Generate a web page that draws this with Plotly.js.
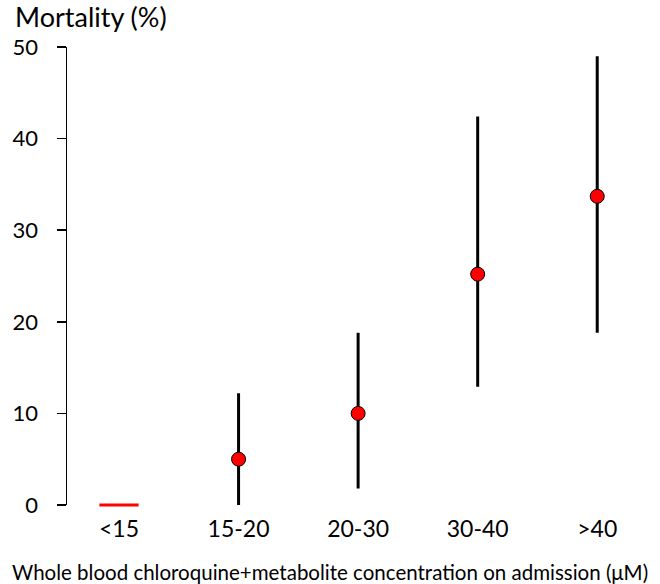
<!DOCTYPE html>
<html>
<head>
<meta charset="utf-8">
<script src="https://cdn.plot.ly/plotly-3.0.1.min.js"></script>
<style>html,body{margin:0;padding:0;background:#fff;}#chart{width:660px;height:584px;}</style>
</head>
<body>
<div id="chart"></div>
<script>
const categories = ["<15", "15-20", "20-30", "30-40", ">40"];
const mortality = [0, 5.0, 10.0, 25.2, 33.7];
const upperCI = [null, 12.2, 18.8, 42.4, 49.0];
const lowerCI = [null, 0, 1.8, 12.9, 18.8];
const yTicks = [0, 10, 20, 30, 40, 50];
const xTitle = "Whole blood chloroquine+metabolite concentration on admission (μM)";
const yTitle = "Mortality (%)";

const idxCI = [1, 2, 3, 4];
const font = "Lato, 'Open Sans', sans-serif";

const traces = [
  {
    type: "scatter", mode: "markers",
    x: idxCI.map(i => categories[i]),
    y: idxCI.map(i => mortality[i]),
    error_y: {
      type: "data", symmetric: false,
      array: idxCI.map(i => upperCI[i] - mortality[i]),
      arrayminus: idxCI.map(i => mortality[i] - lowerCI[i]),
      color: "#000", thickness: 3, width: 0
    },
    marker: { symbol: "circle", size: 14, color: "#ff0000", line: { color: "#000", width: 1 } },
    cliponaxis: false, showlegend: false, hoverinfo: "skip"
  },
  {
    type: "scatter", mode: "markers",
    x: [categories[0]], y: [mortality[0]],
    marker: { symbol: "line-ew", size: 28, line: { color: "#ff0000", width: 3 } },
    cliponaxis: false, showlegend: false, hoverinfo: "skip"
  }
];

const W = 660, H = 584, L = 67, T = 47, B = 79;
const plotW = W - L, plotH = H - T - B;

const layout = {
  width: W, height: H,
  margin: { l: L, r: 0, t: T, b: B },
  paper_bgcolor: "#fff", plot_bgcolor: "#fff",
  font: { family: font, color: "#000", size: 22 },
  xaxis: {
    type: "category", categoryorder: "array", categoryarray: categories,
    range: [-0.435, 4.525],
    showline: false, showgrid: false, zeroline: false, ticks: "",
    tickfont: { family: font, size: 23, color: "#000" },
    ticklabelstandoff: 8
  },
  yaxis: {
    range: [0, 50], tickvals: yTicks, ticktext: yTicks.map(String),
    showline: true, linecolor: "#000", linewidth: 1.5, showgrid: false, zeroline: false,
    ticks: "outside", ticklen: 9, tickwidth: 1.5, tickcolor: "#000",
    tickfont: { family: font, size: 22, color: "#000" },
    ticklabelstandoff: 14
  },
  annotations: [
    { text: yTitle, xref: "paper", yref: "paper", x: (13 - L) / plotW, y: 1 + (T - 17) / plotH,
      xanchor: "left", yanchor: "middle", showarrow: false, font: { family: font, size: 27, color: "#000" } },
    { text: xTitle, xref: "paper", yref: "paper", x: (330 - L) / plotW, y: -(572 - (H - B)) / plotH,
      xanchor: "center", yanchor: "middle", showarrow: false, font: { family: font, size: 20.5, color: "#000" } }
  ]
};

Plotly.newPlot("chart", traces, layout, { displayModeBar: false, staticPlot: true });
</script>
</body>
</html>
